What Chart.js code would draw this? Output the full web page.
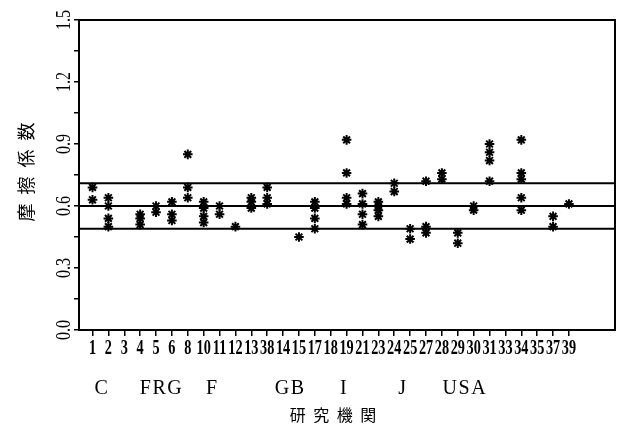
<!DOCTYPE html>
<html>
<head>
<meta charset="utf-8">
<script src="https://cdn.jsdelivr.net/npm/chart.js@4.4.0/dist/chart.umd.min.js"></script>
<style>
  html, body { margin: 0; padding: 0; background: #fff; }
</style>
</head>
<body>
<canvas id="c" width="623" height="428"></canvas>
<script>
/* global Chart */

// lab numbers along the x axis (in the order they are plotted)
const labs = ["1", "2", "3", "4", "5", "6", "8", "10", "11", "12", "13", "38", "14", "15", "17",
  "18", "19", "21", "23", "24", "25", "27", "28", "29", "30", "31", "33", "34", "35", "37", "39"];

// friction coefficients reported by each lab (same order as labs)
const mu = [
  [0.69, 0.63],
  [0.64, 0.60, 0.54, 0.50],
  [],
  [0.56, 0.54, 0.51],
  [0.60, 0.57],
  [0.62, 0.56, 0.53],
  [0.85, 0.69, 0.64],
  [0.62, 0.59, 0.55, 0.52],
  [0.60, 0.56],
  [0.50],
  [0.64, 0.62, 0.59],
  [0.69, 0.64, 0.61],
  [],
  [0.45],
  [0.62, 0.59, 0.54, 0.49],
  [],
  [0.92, 0.76, 0.64, 0.61],
  [0.66, 0.61, 0.56, 0.51],
  [0.62, 0.60, 0.58, 0.55],
  [0.71, 0.67],
  [0.49, 0.44],
  [0.72, 0.50, 0.47],
  [0.76, 0.73],
  [0.47, 0.42],
  [0.60, 0.58],
  [0.90, 0.86, 0.82, 0.72],
  [],
  [0.92, 0.76, 0.73, 0.64, 0.58],
  [],
  [0.55, 0.50],
  [0.61]
];

// mean and +/- band lines
const refLines = [0.71, 0.60, 0.49];

// country groups under the lab numbers (centre in lab-index units)
const countries = ["C", "FRG", "F", "GB", "I", "J", "USA"];
const countryAt = [0.55, 4.3, 7.5, 12.4, 15.8, 19.5, 23.4];

const yTickVals = [0, 0.3, 0.6, 0.9, 1.2, 1.5];
const yTickText = ["0.0", "0.3", "0.6", "0.9", "1.2", "1.5"];

const X_MIN = -0.85, X_MAX = 32.9;

const points = [];
mu.forEach((vals, i) => vals.forEach(v => points.push({ x: i, y: v })));

// draw characters one by one with a fixed gap, centred on 0
function spaced(ctx, text, gap) {
  const chars = [...text];
  const widths = chars.map(c => ctx.measureText(c).width);
  const total = widths.reduce((s, w) => s + w, 0) + gap * (chars.length - 1);
  let pos = -total / 2;
  chars.forEach((c, i) => {
    ctx.fillText(c, pos + widths[i] / 2, 0);
    pos += widths[i] + gap;
  });
}

const textLayer = {
  id: "textLayer",
  afterDraw(chart) {
    const { ctx, chartArea: a, scales: { x, y } } = chart;
    ctx.save();
    ctx.strokeStyle = "#000";
    ctx.lineWidth = 2;
    ctx.strokeRect(a.left, a.top, a.right - a.left, a.bottom - a.top);

    ctx.fillStyle = "#000";
    ctx.textAlign = "center";
    ctx.textBaseline = "middle";

    // x tick labels (tall, narrow)
    ctx.font = "bold 15px 'Liberation Serif'";
    labs.forEach((t, i) => {
      ctx.save();
      ctx.translate(x.getPixelForValue(i), a.bottom + 18);
      ctx.scale(0.95, 1.45);
      ctx.fillText(t, 0, 0);
      ctx.restore();
    });

    // y tick labels, rotated
    ctx.font = "16px 'Liberation Serif'";
    yTickVals.forEach((v, i) => {
      ctx.save();
      ctx.translate(a.left - 14, y.getPixelForValue(v));
      ctx.rotate(-Math.PI / 2);
      ctx.scale(1, 1.3);
      ctx.fillText(yTickText[i], 0, 0);
      ctx.restore();
    });

    // country row
    ctx.font = "20px 'Liberation Serif'";
    countries.forEach((c, i) => {
      ctx.save();
      ctx.translate(x.getPixelForValue(countryAt[i]), a.bottom + 59);
      spaced(ctx, c, 1.5);
      ctx.restore();
    });

    // axis titles
    ctx.font = "16px 'Noto Sans CJK JP'";
    ctx.save();
    ctx.translate(333, a.bottom + 85);
    spaced(ctx, "研究機関", 7.5);
    ctx.restore();

    ctx.font = "18px 'Noto Sans CJK JP'";
    ctx.save();
    ctx.translate(26, 172);
    ctx.rotate(-Math.PI / 2);
    spaced(ctx, "摩擦係数", 9);
    ctx.restore();

    ctx.restore();
  }
};

const lineSets = refLines.map(v => ({
  type: "line",
  data: [{ x: X_MIN, y: v }, { x: X_MAX, y: v }],
  borderColor: "#000",
  borderWidth: 2,
  pointRadius: 0
}));

new Chart(document.getElementById("c").getContext("2d"), {
  type: "scatter",
  data: {
    datasets: [
      {
        data: points,
        pointStyle: "star",
        radius: 4.8,
        borderWidth: 2,
        borderColor: "#000",
        backgroundColor: "#000"
      },
      ...lineSets
    ]
  },
  options: {
    responsive: false,
    animation: false,
    layout: { padding: { top: 20, right: 8, left: 0, bottom: 0 } },
    plugins: { legend: { display: false }, tooltip: { enabled: false } },
    scales: {
      x: {
        type: "linear",
        min: X_MIN,
        max: X_MAX,
        afterBuildTicks: s => { s.ticks = labs.map((_, i) => ({ value: i })); },
        afterFit: s => { s.height = 98; },
        ticks: { display: false },
        grid: { drawOnChartArea: false, drawTicks: true, tickLength: 6, color: "#000", lineWidth: 1.5 },
        border: { display: true, color: "#000", width: 2 }
      },
      y: {
        min: 0,
        max: 1.5,
        afterBuildTicks: s => { s.ticks = Array.from({ length: 11 }, (_, i) => ({ value: i * 0.15 })); },
        afterFit: s => { s.width = 79; },
        ticks: { display: false },
        grid: { drawOnChartArea: false, drawTicks: true, tickLength: 5, color: "#000", lineWidth: 1.5 },
        border: { display: true, color: "#000", width: 2 }
      }
    }
  },
  plugins: [textLayer]
});
</script>
</body>
</html>
